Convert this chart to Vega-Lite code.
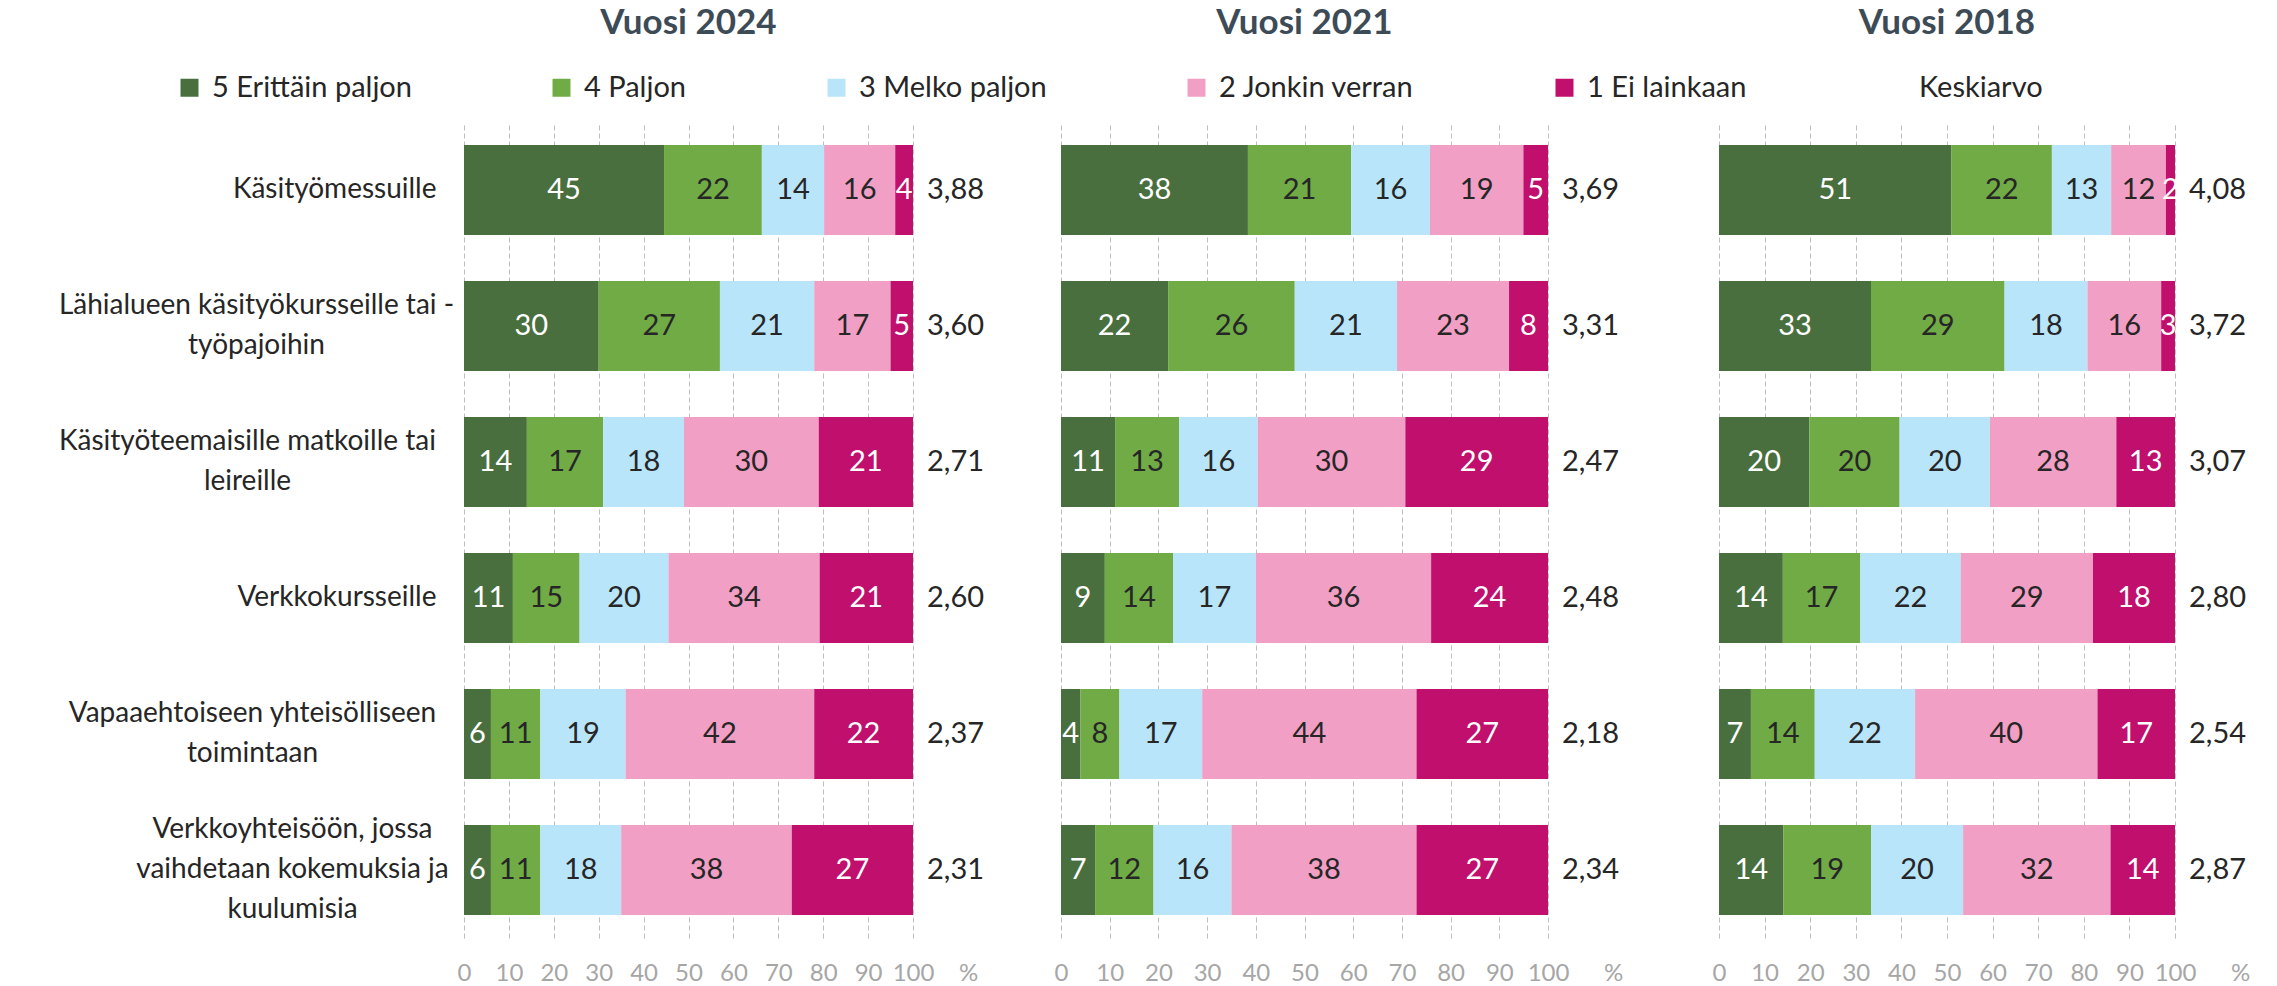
{
  "$schema": "https://vega.github.io/schema/vega-lite/v6.json",
  "autosize": {"type": "none"},
  "padding": {"left": 464, "top": 122, "right": 1813, "bottom": 864},
  "background": "white",
  "config": {
    "view": {"stroke": null},
    "font": "Lato",
    "locale": {"number": {"decimal": ",", "thousands": " ", "grouping": [3], "currency": ["", " €"]}}
  },
  "datasets": {
    "pcts": [
      {"year": 2024, "cat": "Käsityömessuille", "level": "5 Erittäin paljon", "pct": 45},
      {"year": 2024, "cat": "Käsityömessuille", "level": "4 Paljon", "pct": 22},
      {"year": 2024, "cat": "Käsityömessuille", "level": "3 Melko paljon", "pct": 14},
      {"year": 2024, "cat": "Käsityömessuille", "level": "2 Jonkin verran", "pct": 16},
      {"year": 2024, "cat": "Käsityömessuille", "level": "1 Ei lainkaan", "pct": 4},
      {"year": 2024, "cat": "Lähialueen käsityökursseille tai -|työpajoihin", "level": "5 Erittäin paljon", "pct": 30},
      {"year": 2024, "cat": "Lähialueen käsityökursseille tai -|työpajoihin", "level": "4 Paljon", "pct": 27},
      {"year": 2024, "cat": "Lähialueen käsityökursseille tai -|työpajoihin", "level": "3 Melko paljon", "pct": 21},
      {"year": 2024, "cat": "Lähialueen käsityökursseille tai -|työpajoihin", "level": "2 Jonkin verran", "pct": 17},
      {"year": 2024, "cat": "Lähialueen käsityökursseille tai -|työpajoihin", "level": "1 Ei lainkaan", "pct": 5},
      {"year": 2024, "cat": "Käsityöteemaisille matkoille tai|leireille", "level": "5 Erittäin paljon", "pct": 14},
      {"year": 2024, "cat": "Käsityöteemaisille matkoille tai|leireille", "level": "4 Paljon", "pct": 17},
      {"year": 2024, "cat": "Käsityöteemaisille matkoille tai|leireille", "level": "3 Melko paljon", "pct": 18},
      {"year": 2024, "cat": "Käsityöteemaisille matkoille tai|leireille", "level": "2 Jonkin verran", "pct": 30},
      {"year": 2024, "cat": "Käsityöteemaisille matkoille tai|leireille", "level": "1 Ei lainkaan", "pct": 21},
      {"year": 2024, "cat": "Verkkokursseille", "level": "5 Erittäin paljon", "pct": 11},
      {"year": 2024, "cat": "Verkkokursseille", "level": "4 Paljon", "pct": 15},
      {"year": 2024, "cat": "Verkkokursseille", "level": "3 Melko paljon", "pct": 20},
      {"year": 2024, "cat": "Verkkokursseille", "level": "2 Jonkin verran", "pct": 34},
      {"year": 2024, "cat": "Verkkokursseille", "level": "1 Ei lainkaan", "pct": 21},
      {"year": 2024, "cat": "Vapaaehtoiseen yhteisölliseen|toimintaan", "level": "5 Erittäin paljon", "pct": 6},
      {"year": 2024, "cat": "Vapaaehtoiseen yhteisölliseen|toimintaan", "level": "4 Paljon", "pct": 11},
      {"year": 2024, "cat": "Vapaaehtoiseen yhteisölliseen|toimintaan", "level": "3 Melko paljon", "pct": 19},
      {"year": 2024, "cat": "Vapaaehtoiseen yhteisölliseen|toimintaan", "level": "2 Jonkin verran", "pct": 42},
      {"year": 2024, "cat": "Vapaaehtoiseen yhteisölliseen|toimintaan", "level": "1 Ei lainkaan", "pct": 22},
      {"year": 2024, "cat": "Verkkoyhteisöön, jossa|vaihdetaan kokemuksia ja|kuulumisia", "level": "5 Erittäin paljon", "pct": 6},
      {"year": 2024, "cat": "Verkkoyhteisöön, jossa|vaihdetaan kokemuksia ja|kuulumisia", "level": "4 Paljon", "pct": 11},
      {"year": 2024, "cat": "Verkkoyhteisöön, jossa|vaihdetaan kokemuksia ja|kuulumisia", "level": "3 Melko paljon", "pct": 18},
      {"year": 2024, "cat": "Verkkoyhteisöön, jossa|vaihdetaan kokemuksia ja|kuulumisia", "level": "2 Jonkin verran", "pct": 38},
      {"year": 2024, "cat": "Verkkoyhteisöön, jossa|vaihdetaan kokemuksia ja|kuulumisia", "level": "1 Ei lainkaan", "pct": 27},
      {"year": 2021, "cat": "Käsityömessuille", "level": "5 Erittäin paljon", "pct": 38},
      {"year": 2021, "cat": "Käsityömessuille", "level": "4 Paljon", "pct": 21},
      {"year": 2021, "cat": "Käsityömessuille", "level": "3 Melko paljon", "pct": 16},
      {"year": 2021, "cat": "Käsityömessuille", "level": "2 Jonkin verran", "pct": 19},
      {"year": 2021, "cat": "Käsityömessuille", "level": "1 Ei lainkaan", "pct": 5},
      {"year": 2021, "cat": "Lähialueen käsityökursseille tai -|työpajoihin", "level": "5 Erittäin paljon", "pct": 22},
      {"year": 2021, "cat": "Lähialueen käsityökursseille tai -|työpajoihin", "level": "4 Paljon", "pct": 26},
      {"year": 2021, "cat": "Lähialueen käsityökursseille tai -|työpajoihin", "level": "3 Melko paljon", "pct": 21},
      {"year": 2021, "cat": "Lähialueen käsityökursseille tai -|työpajoihin", "level": "2 Jonkin verran", "pct": 23},
      {"year": 2021, "cat": "Lähialueen käsityökursseille tai -|työpajoihin", "level": "1 Ei lainkaan", "pct": 8},
      {"year": 2021, "cat": "Käsityöteemaisille matkoille tai|leireille", "level": "5 Erittäin paljon", "pct": 11},
      {"year": 2021, "cat": "Käsityöteemaisille matkoille tai|leireille", "level": "4 Paljon", "pct": 13},
      {"year": 2021, "cat": "Käsityöteemaisille matkoille tai|leireille", "level": "3 Melko paljon", "pct": 16},
      {"year": 2021, "cat": "Käsityöteemaisille matkoille tai|leireille", "level": "2 Jonkin verran", "pct": 30},
      {"year": 2021, "cat": "Käsityöteemaisille matkoille tai|leireille", "level": "1 Ei lainkaan", "pct": 29},
      {"year": 2021, "cat": "Verkkokursseille", "level": "5 Erittäin paljon", "pct": 9},
      {"year": 2021, "cat": "Verkkokursseille", "level": "4 Paljon", "pct": 14},
      {"year": 2021, "cat": "Verkkokursseille", "level": "3 Melko paljon", "pct": 17},
      {"year": 2021, "cat": "Verkkokursseille", "level": "2 Jonkin verran", "pct": 36},
      {"year": 2021, "cat": "Verkkokursseille", "level": "1 Ei lainkaan", "pct": 24},
      {"year": 2021, "cat": "Vapaaehtoiseen yhteisölliseen|toimintaan", "level": "5 Erittäin paljon", "pct": 4},
      {"year": 2021, "cat": "Vapaaehtoiseen yhteisölliseen|toimintaan", "level": "4 Paljon", "pct": 8},
      {"year": 2021, "cat": "Vapaaehtoiseen yhteisölliseen|toimintaan", "level": "3 Melko paljon", "pct": 17},
      {"year": 2021, "cat": "Vapaaehtoiseen yhteisölliseen|toimintaan", "level": "2 Jonkin verran", "pct": 44},
      {"year": 2021, "cat": "Vapaaehtoiseen yhteisölliseen|toimintaan", "level": "1 Ei lainkaan", "pct": 27},
      {"year": 2021, "cat": "Verkkoyhteisöön, jossa|vaihdetaan kokemuksia ja|kuulumisia", "level": "5 Erittäin paljon", "pct": 7},
      {"year": 2021, "cat": "Verkkoyhteisöön, jossa|vaihdetaan kokemuksia ja|kuulumisia", "level": "4 Paljon", "pct": 12},
      {"year": 2021, "cat": "Verkkoyhteisöön, jossa|vaihdetaan kokemuksia ja|kuulumisia", "level": "3 Melko paljon", "pct": 16},
      {"year": 2021, "cat": "Verkkoyhteisöön, jossa|vaihdetaan kokemuksia ja|kuulumisia", "level": "2 Jonkin verran", "pct": 38},
      {"year": 2021, "cat": "Verkkoyhteisöön, jossa|vaihdetaan kokemuksia ja|kuulumisia", "level": "1 Ei lainkaan", "pct": 27},
      {"year": 2018, "cat": "Käsityömessuille", "level": "5 Erittäin paljon", "pct": 51},
      {"year": 2018, "cat": "Käsityömessuille", "level": "4 Paljon", "pct": 22},
      {"year": 2018, "cat": "Käsityömessuille", "level": "3 Melko paljon", "pct": 13},
      {"year": 2018, "cat": "Käsityömessuille", "level": "2 Jonkin verran", "pct": 12},
      {"year": 2018, "cat": "Käsityömessuille", "level": "1 Ei lainkaan", "pct": 2},
      {"year": 2018, "cat": "Lähialueen käsityökursseille tai -|työpajoihin", "level": "5 Erittäin paljon", "pct": 33},
      {"year": 2018, "cat": "Lähialueen käsityökursseille tai -|työpajoihin", "level": "4 Paljon", "pct": 29},
      {"year": 2018, "cat": "Lähialueen käsityökursseille tai -|työpajoihin", "level": "3 Melko paljon", "pct": 18},
      {"year": 2018, "cat": "Lähialueen käsityökursseille tai -|työpajoihin", "level": "2 Jonkin verran", "pct": 16},
      {"year": 2018, "cat": "Lähialueen käsityökursseille tai -|työpajoihin", "level": "1 Ei lainkaan", "pct": 3},
      {"year": 2018, "cat": "Käsityöteemaisille matkoille tai|leireille", "level": "5 Erittäin paljon", "pct": 20},
      {"year": 2018, "cat": "Käsityöteemaisille matkoille tai|leireille", "level": "4 Paljon", "pct": 20},
      {"year": 2018, "cat": "Käsityöteemaisille matkoille tai|leireille", "level": "3 Melko paljon", "pct": 20},
      {"year": 2018, "cat": "Käsityöteemaisille matkoille tai|leireille", "level": "2 Jonkin verran", "pct": 28},
      {"year": 2018, "cat": "Käsityöteemaisille matkoille tai|leireille", "level": "1 Ei lainkaan", "pct": 13},
      {"year": 2018, "cat": "Verkkokursseille", "level": "5 Erittäin paljon", "pct": 14},
      {"year": 2018, "cat": "Verkkokursseille", "level": "4 Paljon", "pct": 17},
      {"year": 2018, "cat": "Verkkokursseille", "level": "3 Melko paljon", "pct": 22},
      {"year": 2018, "cat": "Verkkokursseille", "level": "2 Jonkin verran", "pct": 29},
      {"year": 2018, "cat": "Verkkokursseille", "level": "1 Ei lainkaan", "pct": 18},
      {"year": 2018, "cat": "Vapaaehtoiseen yhteisölliseen|toimintaan", "level": "5 Erittäin paljon", "pct": 7},
      {"year": 2018, "cat": "Vapaaehtoiseen yhteisölliseen|toimintaan", "level": "4 Paljon", "pct": 14},
      {"year": 2018, "cat": "Vapaaehtoiseen yhteisölliseen|toimintaan", "level": "3 Melko paljon", "pct": 22},
      {"year": 2018, "cat": "Vapaaehtoiseen yhteisölliseen|toimintaan", "level": "2 Jonkin verran", "pct": 40},
      {"year": 2018, "cat": "Vapaaehtoiseen yhteisölliseen|toimintaan", "level": "1 Ei lainkaan", "pct": 17},
      {"year": 2018, "cat": "Verkkoyhteisöön, jossa|vaihdetaan kokemuksia ja|kuulumisia", "level": "5 Erittäin paljon", "pct": 14},
      {"year": 2018, "cat": "Verkkoyhteisöön, jossa|vaihdetaan kokemuksia ja|kuulumisia", "level": "4 Paljon", "pct": 19},
      {"year": 2018, "cat": "Verkkoyhteisöön, jossa|vaihdetaan kokemuksia ja|kuulumisia", "level": "3 Melko paljon", "pct": 20},
      {"year": 2018, "cat": "Verkkoyhteisöön, jossa|vaihdetaan kokemuksia ja|kuulumisia", "level": "2 Jonkin verran", "pct": 32},
      {"year": 2018, "cat": "Verkkoyhteisöön, jossa|vaihdetaan kokemuksia ja|kuulumisia", "level": "1 Ei lainkaan", "pct": 14}
    ],
    "means": [
      {"year": 2024, "cat": "Käsityömessuille", "mean": 3.88},
      {"year": 2024, "cat": "Lähialueen käsityökursseille tai -|työpajoihin", "mean": 3.60},
      {"year": 2024, "cat": "Käsityöteemaisille matkoille tai|leireille", "mean": 2.71},
      {"year": 2024, "cat": "Verkkokursseille", "mean": 2.60},
      {"year": 2024, "cat": "Vapaaehtoiseen yhteisölliseen|toimintaan", "mean": 2.37},
      {"year": 2024, "cat": "Verkkoyhteisöön, jossa|vaihdetaan kokemuksia ja|kuulumisia", "mean": 2.31},
      {"year": 2021, "cat": "Käsityömessuille", "mean": 3.69},
      {"year": 2021, "cat": "Lähialueen käsityökursseille tai -|työpajoihin", "mean": 3.31},
      {"year": 2021, "cat": "Käsityöteemaisille matkoille tai|leireille", "mean": 2.47},
      {"year": 2021, "cat": "Verkkokursseille", "mean": 2.48},
      {"year": 2021, "cat": "Vapaaehtoiseen yhteisölliseen|toimintaan", "mean": 2.18},
      {"year": 2021, "cat": "Verkkoyhteisöön, jossa|vaihdetaan kokemuksia ja|kuulumisia", "mean": 2.34},
      {"year": 2018, "cat": "Käsityömessuille", "mean": 4.08},
      {"year": 2018, "cat": "Lähialueen käsityökursseille tai -|työpajoihin", "mean": 3.72},
      {"year": 2018, "cat": "Käsityöteemaisille matkoille tai|leireille", "mean": 3.07},
      {"year": 2018, "cat": "Verkkokursseille", "mean": 2.80},
      {"year": 2018, "cat": "Vapaaehtoiseen yhteisölliseen|toimintaan", "mean": 2.54},
      {"year": 2018, "cat": "Verkkoyhteisöön, jossa|vaihdetaan kokemuksia ja|kuulumisia", "mean": 2.87}
    ]
  },
  "bounds": "flush",
  "spacing": 148,
  "hconcat": [
    {
      "width": 449, "height": 816,
      "title": {"text": "Vuosi 2024", "fontSize": 35, "fontWeight": "bold", "color": "#3d4b57", "anchor": "middle", "frame": "group", "offset": 53, "baseline": "alphabetic"},
      "layer": [
        {
          "data": {"name": "pcts"},
          "transform": [
            {"filter": "datum.year == 2024"},
            {"stack": "pct", "groupby": ["cat"], "sort": [{"field": "level", "order": "descending"}], "offset": "normalize", "as": ["v0", "v1"]}
          ],
          "mark": {"type": "bar"},
          "encoding": {
            "y": {"field": "cat", "type": "nominal", "sort": ["Käsityömessuille", "Lähialueen käsityökursseille tai -|työpajoihin", "Käsityöteemaisille matkoille tai|leireille", "Verkkokursseille", "Vapaaehtoiseen yhteisölliseen|toimintaan", "Verkkoyhteisöön, jossa|vaihdetaan kokemuksia ja|kuulumisia"], "scale": {"paddingInner": 0.34, "paddingOuter": 0.17},
              "axis": {"title": null, "labelExpr": "split(datum.label, '|')", "labelFontSize": 28, "labelColor": "#262626", "labelLimit": 0, "labelLineHeight": 40, "labelBaseline": "middle",
                "labelAlign": {"condition": {"test": "indexof(datum.value, '|') >= 0", "value": "center"}, "value": "right"},
                "labelPadding": {"condition": [
                  {"test": "indexof(datum.value, 'Lähialueen') == 0", "value": 208},
                  {"test": "indexof(datum.value, 'Käsityöteemaisille') == 0", "value": 217},
                  {"test": "indexof(datum.value, 'Vapaaehtoiseen') == 0", "value": 212},
                  {"test": "indexof(datum.value, 'Verkkoyhteisöön') == 0", "value": 172}
                ], "value": 28},
                "labelOffset": {"condition": [{"test": "length(split(datum.value, '|')) == 3", "value": -40}, {"test": "length(split(datum.value, '|')) == 2", "value": -20}], "value": 0},
                "domain": false, "ticks": false, "grid": false}},
            "x": {"field": "v0", "type": "quantitative", "scale": {"domain": [0, 1], "nice": false},
              "axis": {"values": [0, 0.1, 0.2, 0.3, 0.4, 0.5, 0.6, 0.7, 0.8, 0.9, 1], "labelExpr": "round(datum.value * 100)", "grid": true, "gridDash": [5, 3], "gridColor": "#bfbfbf", "gridWidth": 1, "domain": false, "ticks": false, "labelColor": "#a6a6a6", "labelFontSize": 24, "labelBaseline": "middle", "labelPadding": 35, "labelFlush": false, "labelOverlap": false, "title": "%", "titleX": 504, "titleY": 35, "titleAngle": 0, "titleAlign": "center", "titleBaseline": "middle", "titleColor": "#a6a6a6", "titleFontWeight": "normal", "titleFontSize": 24}},
            "x2": {"field": "v1"},
            "color": {"field": "level", "type": "nominal",
              "scale": {"domain": ["5 Erittäin paljon", "4 Paljon", "3 Melko paljon", "2 Jonkin verran", "1 Ei lainkaan", "Keskiarvo"], "range": ["#4a6f3f", "#70ab46", "#b9e5fb", "#f29fc5", "#c00f6c", "rgba(255,255,255,0)"]},
              "legend": {"title": null, "orient": "none", "legendX": -289, "legendY": -49, "direction": "horizontal", "columns": 6, "columnPadding": 135, "symbolType": "square", "symbolSize": 324, "symbolStrokeWidth": 0, "labelFontSize": 29, "labelColor": "#262626", "labelOffset": 8, "labelLimit": 0, "padding": 0}}
          }
        },
        {
          "data": {"name": "pcts"},
          "transform": [
            {"filter": "datum.year == 2024"},
            {"stack": "pct", "groupby": ["cat"], "sort": [{"field": "level", "order": "descending"}], "offset": "normalize", "as": ["v0", "v1"]},
            {"fold": ["v0", "v1"], "as": ["edge", "pos"]},
            {"aggregate": [{"op": "mean", "field": "pos", "as": "mid"}], "groupby": ["cat", "level", "pct"]}
          ],
          "mark": {"type": "text", "fontSize": 29, "baseline": "middle", "align": "center"},
          "encoding": {
            "y": {"field": "cat", "type": "nominal", "sort": ["Käsityömessuille", "Lähialueen käsityökursseille tai -|työpajoihin", "Käsityöteemaisille matkoille tai|leireille", "Verkkokursseille", "Vapaaehtoiseen yhteisölliseen|toimintaan", "Verkkoyhteisöön, jossa|vaihdetaan kokemuksia ja|kuulumisia"]},
            "x": {"field": "mid", "type": "quantitative"},
            "text": {"field": "pct"},
            "color": {"condition": {"test": "datum.level == '5 Erittäin paljon' || datum.level == '1 Ei lainkaan'", "value": "#ffffff"}, "value": "#262626"}
          }
        },
        {
          "data": {"name": "means"},
          "transform": [{"filter": "datum.year == 2024"}],
          "mark": {"type": "text", "fontSize": 29, "baseline": "middle", "align": "left", "dx": 14, "color": "#262626"},
          "encoding": {
            "y": {"field": "cat", "type": "nominal", "sort": ["Käsityömessuille", "Lähialueen käsityökursseille tai -|työpajoihin", "Käsityöteemaisille matkoille tai|leireille", "Verkkokursseille", "Vapaaehtoiseen yhteisölliseen|toimintaan", "Verkkoyhteisöön, jossa|vaihdetaan kokemuksia ja|kuulumisia"]},
            "x": {"datum": 1, "type": "quantitative"},
            "text": {"field": "mean", "type": "quantitative", "format": ".2f"}
          }
        }
      ]
    },
    {
      "bounds": "flush",
      "spacing": 171,
      "hconcat": [
        {
          "width": 487, "height": 816,
          "title": {"text": "Vuosi 2021", "fontSize": 35, "fontWeight": "bold", "color": "#3d4b57", "anchor": "middle", "frame": "group", "offset": 53, "baseline": "alphabetic"},
          "layer": [
            {
              "data": {"name": "pcts"},
              "transform": [
                {"filter": "datum.year == 2021"},
                {"stack": "pct", "groupby": ["cat"], "sort": [{"field": "level", "order": "descending"}], "offset": "normalize", "as": ["v0", "v1"]}
              ],
              "mark": {"type": "bar"},
              "encoding": {
                "y": {"field": "cat", "type": "nominal", "sort": ["Käsityömessuille", "Lähialueen käsityökursseille tai -|työpajoihin", "Käsityöteemaisille matkoille tai|leireille", "Verkkokursseille", "Vapaaehtoiseen yhteisölliseen|toimintaan", "Verkkoyhteisöön, jossa|vaihdetaan kokemuksia ja|kuulumisia"], "scale": {"paddingInner": 0.34, "paddingOuter": 0.17}, "axis": null},
                "x": {"field": "v0", "type": "quantitative", "scale": {"domain": [0, 1], "nice": false},
                  "axis": {"values": [0, 0.1, 0.2, 0.3, 0.4, 0.5, 0.6, 0.7, 0.8, 0.9, 1], "labelExpr": "round(datum.value * 100)", "grid": true, "gridDash": [5, 3], "gridColor": "#bfbfbf", "gridWidth": 1, "domain": false, "ticks": false, "labelColor": "#a6a6a6", "labelFontSize": 24, "labelBaseline": "middle", "labelPadding": 35, "labelFlush": false, "labelOverlap": false, "title": "%", "titleX": 552, "titleY": 35, "titleAngle": 0, "titleAlign": "center", "titleBaseline": "middle", "titleColor": "#a6a6a6", "titleFontWeight": "normal", "titleFontSize": 24}},
                "x2": {"field": "v1"},
                "color": {"field": "level", "type": "nominal",
                  "scale": {"domain": ["5 Erittäin paljon", "4 Paljon", "3 Melko paljon", "2 Jonkin verran", "1 Ei lainkaan", "Keskiarvo"], "range": ["#4a6f3f", "#70ab46", "#b9e5fb", "#f29fc5", "#c00f6c", "rgba(255,255,255,0)"]},
                  "legend": {"title": null, "orient": "none", "legendX": -289, "legendY": -49, "direction": "horizontal", "columns": 6, "columnPadding": 135, "symbolType": "square", "symbolSize": 324, "symbolStrokeWidth": 0, "labelFontSize": 29, "labelColor": "#262626", "labelOffset": 8, "labelLimit": 0, "padding": 0}}
              }
            },
            {
              "data": {"name": "pcts"},
              "transform": [
                {"filter": "datum.year == 2021"},
                {"stack": "pct", "groupby": ["cat"], "sort": [{"field": "level", "order": "descending"}], "offset": "normalize", "as": ["v0", "v1"]},
                {"fold": ["v0", "v1"], "as": ["edge", "pos"]},
                {"aggregate": [{"op": "mean", "field": "pos", "as": "mid"}], "groupby": ["cat", "level", "pct"]}
              ],
              "mark": {"type": "text", "fontSize": 29, "baseline": "middle", "align": "center"},
              "encoding": {
                "y": {"field": "cat", "type": "nominal", "sort": ["Käsityömessuille", "Lähialueen käsityökursseille tai -|työpajoihin", "Käsityöteemaisille matkoille tai|leireille", "Verkkokursseille", "Vapaaehtoiseen yhteisölliseen|toimintaan", "Verkkoyhteisöön, jossa|vaihdetaan kokemuksia ja|kuulumisia"], "axis": null},
                "x": {"field": "mid", "type": "quantitative"},
                "text": {"field": "pct"},
                "color": {"condition": {"test": "datum.level == '5 Erittäin paljon' || datum.level == '1 Ei lainkaan'", "value": "#ffffff"}, "value": "#262626"}
              }
            },
            {
              "data": {"name": "means"},
              "transform": [{"filter": "datum.year == 2021"}],
              "mark": {"type": "text", "fontSize": 29, "baseline": "middle", "align": "left", "dx": 14, "color": "#262626"},
              "encoding": {
                "y": {"field": "cat", "type": "nominal", "sort": ["Käsityömessuille", "Lähialueen käsityökursseille tai -|työpajoihin", "Käsityöteemaisille matkoille tai|leireille", "Verkkokursseille", "Vapaaehtoiseen yhteisölliseen|toimintaan", "Verkkoyhteisöön, jossa|vaihdetaan kokemuksia ja|kuulumisia"], "axis": null},
                "x": {"datum": 1, "type": "quantitative"},
                "text": {"field": "mean", "type": "quantitative", "format": ".2f"}
              }
            }
          ]
        },
        {
          "width": 456, "height": 816,
          "title": {"text": "Vuosi 2018", "fontSize": 35, "fontWeight": "bold", "color": "#3d4b57", "anchor": "middle", "frame": "group", "offset": 53, "baseline": "alphabetic"},
          "layer": [
            {
              "data": {"name": "pcts"},
              "transform": [
                {"filter": "datum.year == 2018"},
                {"stack": "pct", "groupby": ["cat"], "sort": [{"field": "level", "order": "descending"}], "offset": "normalize", "as": ["v0", "v1"]}
              ],
              "mark": {"type": "bar"},
              "encoding": {
                "y": {"field": "cat", "type": "nominal", "sort": ["Käsityömessuille", "Lähialueen käsityökursseille tai -|työpajoihin", "Käsityöteemaisille matkoille tai|leireille", "Verkkokursseille", "Vapaaehtoiseen yhteisölliseen|toimintaan", "Verkkoyhteisöön, jossa|vaihdetaan kokemuksia ja|kuulumisia"], "scale": {"paddingInner": 0.34, "paddingOuter": 0.17}, "axis": null},
                "x": {"field": "v0", "type": "quantitative", "scale": {"domain": [0, 1], "nice": false},
                  "axis": {"values": [0, 0.1, 0.2, 0.3, 0.4, 0.5, 0.6, 0.7, 0.8, 0.9, 1], "labelExpr": "round(datum.value * 100)", "grid": true, "gridDash": [5, 3], "gridColor": "#bfbfbf", "gridWidth": 1, "domain": false, "ticks": false, "labelColor": "#a6a6a6", "labelFontSize": 24, "labelBaseline": "middle", "labelPadding": 35, "labelFlush": false, "labelOverlap": false, "title": "%", "titleX": 521, "titleY": 35, "titleAngle": 0, "titleAlign": "center", "titleBaseline": "middle", "titleColor": "#a6a6a6", "titleFontWeight": "normal", "titleFontSize": 24}},
                "x2": {"field": "v1"},
                "color": {"field": "level", "type": "nominal",
                  "scale": {"domain": ["5 Erittäin paljon", "4 Paljon", "3 Melko paljon", "2 Jonkin verran", "1 Ei lainkaan", "Keskiarvo"], "range": ["#4a6f3f", "#70ab46", "#b9e5fb", "#f29fc5", "#c00f6c", "rgba(255,255,255,0)"]},
                  "legend": {"title": null, "orient": "none", "legendX": -289, "legendY": -49, "direction": "horizontal", "columns": 6, "columnPadding": 135, "symbolType": "square", "symbolSize": 324, "symbolStrokeWidth": 0, "labelFontSize": 29, "labelColor": "#262626", "labelOffset": 8, "labelLimit": 0, "padding": 0}}
              }
            },
            {
              "data": {"name": "pcts"},
              "transform": [
                {"filter": "datum.year == 2018"},
                {"stack": "pct", "groupby": ["cat"], "sort": [{"field": "level", "order": "descending"}], "offset": "normalize", "as": ["v0", "v1"]},
                {"fold": ["v0", "v1"], "as": ["edge", "pos"]},
                {"aggregate": [{"op": "mean", "field": "pos", "as": "mid"}], "groupby": ["cat", "level", "pct"]}
              ],
              "mark": {"type": "text", "fontSize": 29, "baseline": "middle", "align": "center"},
              "encoding": {
                "y": {"field": "cat", "type": "nominal", "sort": ["Käsityömessuille", "Lähialueen käsityökursseille tai -|työpajoihin", "Käsityöteemaisille matkoille tai|leireille", "Verkkokursseille", "Vapaaehtoiseen yhteisölliseen|toimintaan", "Verkkoyhteisöön, jossa|vaihdetaan kokemuksia ja|kuulumisia"], "axis": null},
                "x": {"field": "mid", "type": "quantitative"},
                "text": {"field": "pct"},
                "color": {"condition": {"test": "datum.level == '5 Erittäin paljon' || datum.level == '1 Ei lainkaan'", "value": "#ffffff"}, "value": "#262626"}
              }
            },
            {
              "data": {"name": "means"},
              "transform": [{"filter": "datum.year == 2018"}],
              "mark": {"type": "text", "fontSize": 29, "baseline": "middle", "align": "left", "dx": 14, "color": "#262626"},
              "encoding": {
                "y": {"field": "cat", "type": "nominal", "sort": ["Käsityömessuille", "Lähialueen käsityökursseille tai -|työpajoihin", "Käsityöteemaisille matkoille tai|leireille", "Verkkokursseille", "Vapaaehtoiseen yhteisölliseen|toimintaan", "Verkkoyhteisöön, jossa|vaihdetaan kokemuksia ja|kuulumisia"], "axis": null},
                "x": {"datum": 1, "type": "quantitative"},
                "text": {"field": "mean", "type": "quantitative", "format": ".2f"}
              }
            }
          ]
        }
      ]
    }
  ]
}
